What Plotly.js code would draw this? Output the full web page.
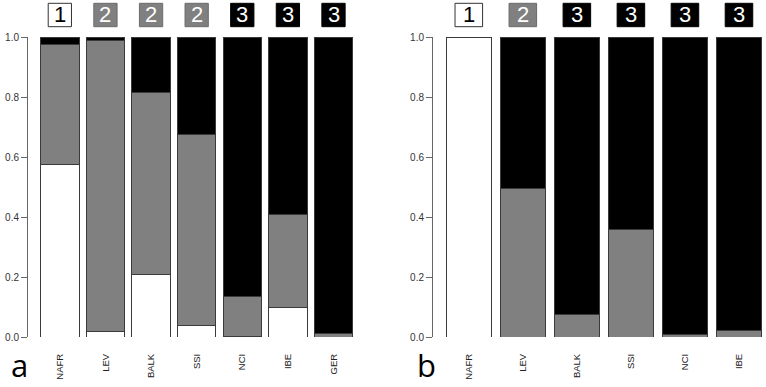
<!DOCTYPE html>
<html><head><meta charset="utf-8">
<script src="https://cdn.plot.ly/plotly-3.0.1.min.js"></script>
<style>html,body{margin:0;padding:0;background:#fff}#c{width:766px;height:387px}</style>
</head><body><div id="c"></div>
<script>
// Panel a
const catsA = ["NAFR","LEV","BALK","SSI","NCI","IBE","GER"];
const whiteA = [0.575, 0.02, 0.21, 0.04, 0.003, 0.10, 0.0];
const grayA  = [0.40, 0.97, 0.605, 0.635, 0.132, 0.31, 0.012];
const blackA = [0.025, 0.01, 0.185, 0.325, 0.865, 0.59, 0.988];
const groupsA = [1,2,2,2,3,3,3];
// Panel b
const catsB = ["NAFR","LEV","BALK","SSI","NCI","IBE"];
const whiteB = [1.0, 0, 0, 0, 0, 0];
const grayB  = [0, 0.495, 0.075, 0.36, 0.01, 0.022];
const blackB = [0, 0.505, 0.925, 0.64, 0.99, 0.978];
const groupsB = [1,2,3,3,3,3];

const GRAY = "#808080";
const lineStyle = {color:"#3a3a3a", width:1};
function bar(x, y, color, xa, ya, w){
  return {type:"bar", x:x, y:y, xaxis:xa, yaxis:ya, width:w,
    marker:{color:color, line:lineStyle}, hoverinfo:"skip", showlegend:false};
}
const data = [
  bar(catsA, whiteA, "#ffffff", "x", "y", 0.845),
  bar(catsA, grayA, GRAY, "x", "y", 0.845),
  bar(catsA, blackA, "#000000", "x", "y", 0.845),
  bar(catsB, whiteB, "#ffffff", "x2", "y2", 0.838),
  bar(catsB, grayB, GRAY, "x2", "y2", 0.838),
  bar(catsB, blackB, "#000000", "x2", "y2", 0.838)
];

const H = 387, W = 766;
const yDom = [(H-337)/H, (H-37)/H];
const fill = {1:"#ffffff", 2:GRAY, 3:"#000000"};
const edge = {1:"#333333", 2:"#6a6a6a", 3:"#000000"};
const txt = {1:"#000000", 2:"#ffffff", 3:"#ffffff"};
const shapes = [], annotations = [];
function boxes(groups, xref){
  groups.forEach((g,i)=>{
    shapes.push({type:"rect", xref:xref, yref:"paper", x0:i-0.255, x1:i+0.255,
      y0:(H-26.7)/H, y1:(H-3.3)/H, fillcolor:fill[g], line:{color:edge[g], width:1}});
    annotations.push({xref:xref, yref:"paper", x:i, y:(H-15)/H, text:String(g),
      showarrow:false, xanchor:"center", yanchor:"middle",
      font:{family:"Liberation Sans, Arial, sans-serif", size:22, color:txt[g]}});
  });
}
boxes(groupsA, "x");
boxes(groupsB, "x2");
annotations.push({xref:"paper", yref:"paper", x:10/W, y:0, xanchor:"left", yanchor:"bottom", borderpad:0,
  text:"a", showarrow:false, font:{family:"Open Sans, DejaVu Sans, sans-serif", size:31, color:"#000"}});
annotations.push({xref:"paper", yref:"paper", x:416/W, y:0, xanchor:"left", yanchor:"bottom", borderpad:0,
  text:"b", showarrow:false, font:{family:"Open Sans, DejaVu Sans, sans-serif", size:31, color:"#000"}});

const xCommon = {type:"category", showline:false, zeroline:false, showgrid:false,
  ticks:"outside", ticklen:12, tickcolor:"rgba(0,0,0,0)", tickangle:-90,
  tickfont:{family:"Liberation Sans, Arial, sans-serif", size:9.5, color:"#222"}, fixedrange:true};
const yCommon = {range:[0,1], domain:yDom, showgrid:false, zeroline:false, showline:true,
  linecolor:"#666", linewidth:1, ticks:"outside", ticklen:6, tickcolor:"#666",
  tickvals:[0,0.2,0.4,0.6,0.8,1.0], tickformat:".1f",
  tickfont:{family:"Liberation Sans, Arial, sans-serif", size:10, color:"#333"}, fixedrange:true};

const layout = {
  width:W, height:H, margin:{l:0,r:0,t:0,b:0}, paper_bgcolor:"#fff", plot_bgcolor:"rgba(0,0,0,0)",
  barmode:"stack", showlegend:false,
  xaxis:Object.assign({}, xCommon, {domain:[28/W, 360/W], range:[-0.698, 6.581], anchor:"y"}),
  yaxis:Object.assign({}, yCommon, {anchor:"x"}),
  xaxis2:Object.assign({}, xCommon, {domain:[433/W, 1], range:[-0.6625, 5.5], anchor:"y2"}),
  yaxis2:Object.assign({}, yCommon, {anchor:"x2"}),
  shapes:shapes, annotations:annotations
};
Plotly.newPlot("c", data, layout, {displayModeBar:false, staticPlot:true});
</script></body></html>
